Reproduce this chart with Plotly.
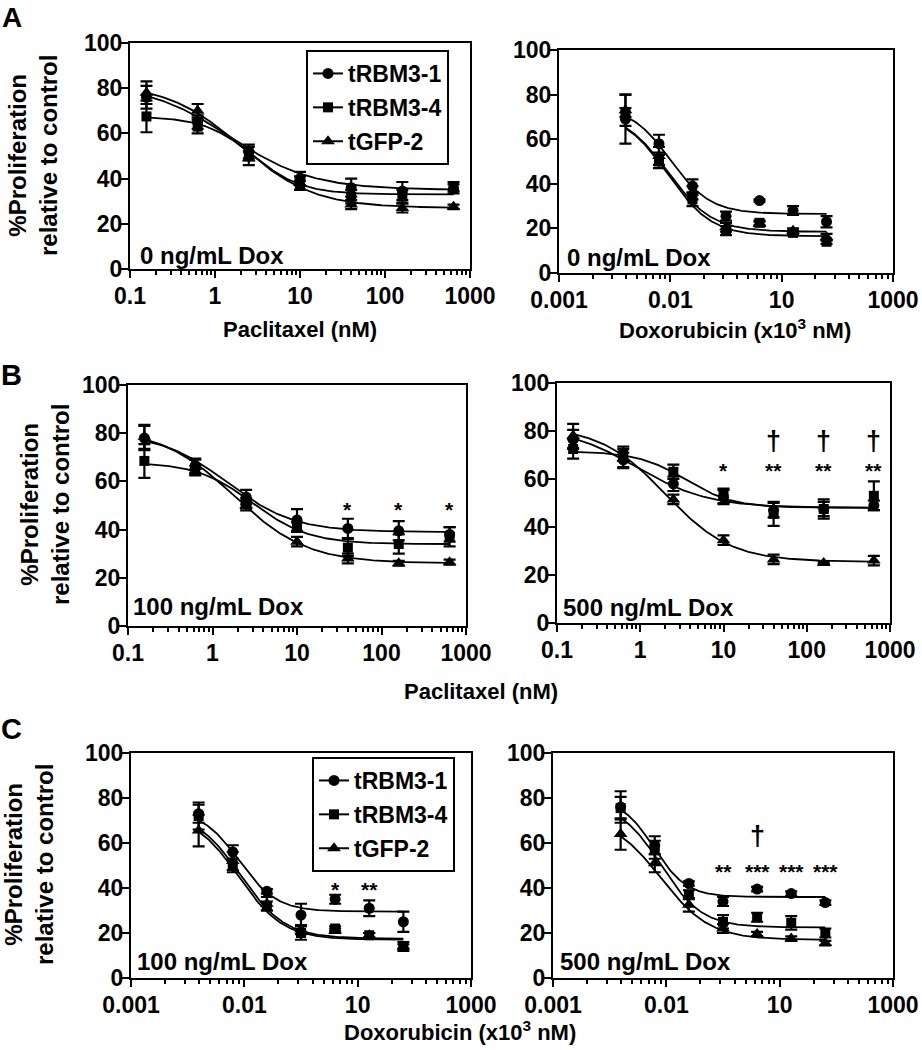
import numpy as np
import plotly.graph_objects as go

# ---------------- data ----------------
SERIES = ["tRBM3-1", "tRBM3-4", "tGFP-2"]
PTX_DOSES = [0.15625, 0.625, 2.5, 10, 40, 160, 640]          # Paclitaxel (nM)
DOX_DOSES = [0.015625, 0.0625, 0.25, 1, 4, 16, 64]           # Doxorubicin (x10^3 nM)

PTX_TICKVALS = [0.1, 1, 10, 100, 1000]
PTX_TICKTEXT = ["0.1", "1", "10", "100", "1000"]
DOX_TICKVALS = [0.001, 0.1, 10, 1000]
DOX_TICKTEXT = ["0.001", "0.01", "10", "1000"]
Y_TICKVALS = [0, 20, 40, 60, 80, 100]

# Panel A left: 0 ng/mL Dox, paclitaxel
A1_RBM1 = [76, 65, 52, 40, 36, 34.5, 35.5]
A1_RBM4 = [67.5, 63, 51, 37, 32, 32, 36.5]
A1_GFP2 = [78, 70, 49, 38, 28.5, 27, 27.5]
A1_RBM1_ERR = [5, 3, 3, 3, 4, 4, 2]
A1_RBM4_ERR = [7, 3, 3, 2, 3, 3, 2]
A1_GFP2_ERR = [5, 3, 3, 3, 2, 2, 1]
A1_FIT = [(82, 35, 1.5, 0.9), (67.5, 33, 2.8, 1.5), (82, 27, 2.0, 1.0)]  # top, bottom, EC50, hill

# Panel A right: 0 ng/mL Dox, doxorubicin
A2_RBM1 = [69, 58, 39, 25.5, 32.5, 28, 23]
A2_RBM4 = [72, 50, 33, 19, 22.5, 18, 14]
A2_GFP2 = [73, 52.5, 36, 20.5, 22, 19, 16]
A2_RBM1_ERR = [11, 4, 3, 2, 0.5, 2, 2.5]
A2_RBM4_ERR = [2, 3, 3, 2, 1, 1, 1]
A2_GFP2_ERR = [7, 4, 3, 2, 1, 1, 1.5]
A2_FIT = [(75, 26.5, 0.1, 1.2), (72, 16.5, 0.09, 1.1), (72, 18.5, 0.09, 1.1)]

# Panel B left: 100 ng/mL Dox, paclitaxel
B1_RBM1 = [78, 66.5, 53.5, 44, 40.5, 39.5, 38]
B1_RBM4 = [68.5, 64.5, 51, 41, 32.5, 34, 37]
B1_GFP2 = [78.5, 66, 50, 35, 28, 26, 26.5]
B1_RBM1_ERR = [5, 3, 3, 4.5, 4, 4, 3]
B1_RBM4_ERR = [7, 2, 2, 2, 3.5, 4, 4]
B1_GFP2_ERR = [5, 3, 2, 2, 2, 1, 1]
B1_FIT = [(80, 39, 1.5, 1.1), (68, 34, 3.0, 1.3), (82, 26, 1.8, 1.0)]
B1_SIG = [(4, "*", 51), (5, "*", 51), (6, "*", 51)]
B1_DAG = []

# Panel B right: 500 ng/mL Dox, paclitaxel
B2_RBM1 = [76.5, 68, 58, 52.5, 47, 47.5, 49]
B2_RBM4 = [72.5, 70.5, 63, 53, 45.5, 47.5, 53]
B2_GFP2 = [78, 68.5, 51.5, 34.5, 26.5, 25, 26]
B2_RBM1_ERR = [4, 3, 3, 3, 3, 3, 2]
B2_RBM4_ERR = [4, 3, 3, 3, 5, 4, 6]
B2_GFP2_ERR = [5, 4, 2, 2, 2, 0.5, 2]
B2_FIT = [(82, 48, 0.9, 1.0), (71.5, 48, 3.5, 1.5), (82, 25.5, 2.0, 1.1)]
B2_SIG = [(3, "*", 66), (4, "**", 66), (5, "**", 66), (6, "**", 66)]
B2_DAG = [(4, "†", 76), (5, "†", 76), (6, "†", 76)]

# Panel C left: 100 ng/mL Dox, doxorubicin
C1_RBM1 = [73, 56, 38.5, 28, 35, 31, 25]
C1_RBM4 = [72, 50, 32, 20, 22, 19, 14]
C1_GFP2 = [65.5, 52, 33, 21.5, 21, 19, 14]
C1_RBM1_ERR = [4, 3, 1, 5, 2, 3.5, 4.5]
C1_RBM4_ERR = [6, 3, 2, 3, 1, 1, 2]
C1_GFP2_ERR = [7, 4, 3, 2, 1, 1, 1]
C1_FIT = [(75, 29.5, 0.08, 1.3), (73, 17, 0.08, 1.1), (74, 17.5, 0.085, 1.1)]
C1_SIG = [(4, "*", 42), (5, "**", 42)]
C1_DAG = []

# Panel C right: 500 ng/mL Dox, doxorubicin
C2_RBM1 = [76, 59, 42, 34, 39.5, 37.5, 33.5]
C2_RBM4 = [75.5, 57, 37, 25, 27, 24.5, 20]
C2_GFP2 = [64, 51, 32.5, 22, 19.5, 17.5, 15.5]
C2_RBM1_ERR = [7, 4, 1, 2, 1, 1, 1]
C2_RBM4_ERR = [5, 4, 2, 3, 2, 3, 2]
C2_GFP2_ERR = [7, 4, 3, 2, 1, 1, 1]
C2_FIT = [(80, 36, 0.06, 1.5), (78, 22.5, 0.08, 1.2), (72, 17, 0.08, 1.0)]
C2_SIG = [(3, "**", 50), (4, "***", 50), (5, "***", 50), (6, "***", 50)]
C2_DAG = [(4, "†", 63)]

# ---------------- layout / style ----------------
W, H = 922, 1050
FONT = "Liberation Sans, Arial, Helvetica, sans-serif"
SYM = {"tRBM3-1": "circle", "tRBM3-4": "square", "tGFP-2": "triangle-up"}
MSIZE = {"tRBM3-1": 11, "tRBM3-4": 10, "tGFP-2": 12}


def px(x):
    return x / W


def py(y):
    return 1 - y / H


PANELS = [
    dict(n=1, doses=PTX_DOSES, drug="ptx", means=[A1_RBM1, A1_RBM4, A1_GFP2],
         errs=[A1_RBM1_ERR, A1_RBM4_ERR, A1_GFP2_ERR], fits=A1_FIT, sig=[], dag=[],
         label="0 ng/mL Dox", box=(130, 470, 43, 269), lab=(138, 255), legend="legend"),
    dict(n=2, doses=DOX_DOSES, drug="dox", means=[A2_RBM1, A2_RBM4, A2_GFP2],
         errs=[A2_RBM1_ERR, A2_RBM4_ERR, A2_GFP2_ERR], fits=A2_FIT, sig=[], dag=[],
         label="0 ng/mL Dox", box=(559, 893, 50, 273), lab=(565, 257), legend=None),
    dict(n=3, doses=PTX_DOSES, drug="ptx", means=[B1_RBM1, B1_RBM4, B1_GFP2],
         errs=[B1_RBM1_ERR, B1_RBM4_ERR, B1_GFP2_ERR], fits=B1_FIT, sig=B1_SIG, dag=B1_DAG,
         label="100 ng/mL Dox", box=(128, 466, 385, 626), lab=(131, 606), legend=None),
    dict(n=4, doses=PTX_DOSES, drug="ptx", means=[B2_RBM1, B2_RBM4, B2_GFP2],
         errs=[B2_RBM1_ERR, B2_RBM4_ERR, B2_GFP2_ERR], fits=B2_FIT, sig=B2_SIG, dag=B2_DAG,
         label="500 ng/mL Dox", box=(557, 890, 383, 623), lab=(561, 607), legend=None),
    dict(n=5, doses=DOX_DOSES, drug="dox", means=[C1_RBM1, C1_RBM4, C1_GFP2],
         errs=[C1_RBM1_ERR, C1_RBM4_ERR, C1_GFP2_ERR], fits=C1_FIT, sig=C1_SIG, dag=C1_DAG,
         label="100 ng/mL Dox", box=(131, 471, 753, 978), lab=(135, 961), legend="legend2"),
    dict(n=6, doses=DOX_DOSES, drug="dox", means=[C2_RBM1, C2_RBM4, C2_GFP2],
         errs=[C2_RBM1_ERR, C2_RBM4_ERR, C2_GFP2_ERR], fits=C2_FIT, sig=C2_SIG, dag=C2_DAG,
         label="500 ng/mL Dox", box=(553, 893, 753, 978), lab=(558, 961), legend=None),
]

ptx_minor = [m * 10.0 ** e for e in range(-1, 3) for m in range(2, 10)]
dox_minor = [10.0 ** (e + 2 * np.log10(m)) for e in (-3, -1, 1) for m in range(2, 10)]

TICK_FONT = dict(family=FONT, size=23, color="black", weight="bold")

fig = go.Figure()
annotations = []
layout = {}

for p in PANELS:
    n = p["n"]
    xr = "x" if n == 1 else f"x{n}"
    yr = "y" if n == 1 else f"y{n}"
    doses = p["doses"]
    # fitted curves
    for s_i, s in enumerate(SERIES):
        top, bottom, ec50, hill = p["fits"][s_i]
        xs = np.logspace(np.log10(doses[0]), np.log10(doses[-1]), 200)
        ys = bottom + (top - bottom) / (1 + (xs / ec50) ** hill)
        fig.add_trace(go.Scatter(x=xs, y=ys, mode="lines", line=dict(color="black", width=1.8),
                                 xaxis=xr, yaxis=yr, showlegend=False, hoverinfo="skip"))
    # points with error bars
    for s_i, s in enumerate(SERIES):
        fig.add_trace(go.Scatter(
            x=doses, y=p["means"][s_i], mode="markers", name=s,
            marker=dict(symbol=SYM[s], size=MSIZE[s], color="black"),
            error_y=dict(type="data", array=p["errs"][s_i], visible=True,
                         color="black", thickness=2.2, width=6),
            xaxis=xr, yaxis=yr, showlegend=False))
    # legend entries
    if p["legend"]:
        for s in SERIES:
            fig.add_trace(go.Scatter(
                x=[None], y=[None], mode="lines+markers", name=s,
                legend=p["legend"], legendgroup=p["legend"] + s,
                marker=dict(symbol=SYM[s], size=MSIZE[s], color="black"),
                line=dict(color="black", width=2), xaxis=xr, yaxis=yr))

    l, r, t, b = p["box"]
    xkey = "xaxis" if n == 1 else f"xaxis{n}"
    ykey = "yaxis" if n == 1 else f"yaxis{n}"
    if p["drug"] == "ptx":
        tv, tt, rng, mv = PTX_TICKVALS, PTX_TICKTEXT, [-1, 3], ptx_minor
    else:
        tv, tt, rng, mv = DOX_TICKVALS, DOX_TICKTEXT, [-3, 3], dox_minor
    layout[xkey] = dict(
        domain=[px(l), px(r)], anchor=yr, type="log", range=rng, automargin=False,
        tickmode="array", tickvals=tv, ticktext=tt,
        ticks="outside", ticklen=7, tickwidth=2, tickcolor="black",
        minor=dict(tickmode="array", tickvals=mv, ticks="outside", ticklen=4,
                   tickwidth=1.5, tickcolor="black", showgrid=False),
        showline=True, linewidth=2, linecolor="black", mirror=True,
        showgrid=False, zeroline=False, ticklabelstandoff=-2, ticklabeloverflow="allow",
        tickfont=TICK_FONT)
    layout[ykey] = dict(
        domain=[py(b), py(t)], anchor=xr, range=[0, 100], automargin=False,
        tickmode="array", tickvals=Y_TICKVALS,
        ticks="outside", ticklen=7, tickwidth=2, tickcolor="black",
        showline=True, linewidth=2, linecolor="black", mirror=True,
        showgrid=False, zeroline=False, ticklabelstandoff=-6,
        tickfont=TICK_FONT)

    # condition label
    annotations.append(dict(xref="paper", yref="paper", x=px(p["lab"][0]), y=py(p["lab"][1]),
                            xanchor="left", yanchor="middle", showarrow=False,
                            text=f"<b>{p['label']}</b>",
                            font=dict(family=FONT, size=24, color="black")))
    # significance marks
    for idx, txt, yv in p["sig"]:
        annotations.append(dict(xref=xr, yref=yr, x=np.log10(doses[idx]), y=yv,
                                xanchor="center", yanchor="middle", yshift=-6, showarrow=False,
                                text=f"<b>{txt}</b>", font=dict(family=FONT, size=21, color="black")))
    for idx, txt, yv in p["dag"]:
        annotations.append(dict(xref=xr, yref=yr, x=np.log10(doses[idx]), y=yv,
                                xanchor="center", yanchor="middle", showarrow=False,
                                text=f"<b>{txt}</b>", font=dict(family=FONT, size=27, color="black")))

# panel letters
annotations.append(dict(xref="paper", yref="paper", x=px(12), y=1, xanchor="center",
                        yanchor="top", showarrow=False, text="<b>A</b>",
                        font=dict(family=FONT, size=28, color="black")))
for letter, (lx, ly) in zip(["B", "C"], [(11, 375), (11, 729)]):
    annotations.append(dict(xref="paper", yref="paper", x=px(lx), y=py(ly), xanchor="center",
                            yanchor="middle", showarrow=False, text=f"<b>{letter}</b>",
                            font=dict(family=FONT, size=29, color="black")))

# y titles
for (tx, ty) in [(33, 156), (45, 505), (29, 865)]:
    annotations.append(dict(xref="paper", yref="paper", x=px(tx), y=py(ty), xanchor="center",
                            yanchor="middle", showarrow=False, textangle=-90,
                            text="<b>%Proliferation<br>relative to control</b>",
                            font=dict(family=FONT, size=24, color="black")))

# x titles
DOX_TITLE = "<b>Doxorubicin (x10<sup>3</sup> nM)</b>"
PTX_TITLE = "<b>Paclitaxel (nM)</b>"
for txt, (tx, ty) in [(PTX_TITLE, (300, 329)), (DOX_TITLE, (735, 329)),
                      (PTX_TITLE, (481, 692)), (DOX_TITLE, (460, 1031))]:
    annotations.append(dict(xref="paper", yref="paper", x=px(tx), y=py(ty), xanchor="center",
                            yanchor="middle", showarrow=False, text=txt,
                            font=dict(family=FONT, size=22, color="black")))

legend_style = dict(xanchor="left", yanchor="top", bordercolor="black", borderwidth=2,
                    bgcolor="white", traceorder="grouped", tracegroupgap=1, itemwidth=30,
                    font=dict(family=FONT, size=23, color="black", weight="bold"))

fig.update_layout(
    width=W, height=H, autosize=False,
    margin=dict(l=0, r=0, t=0, b=0, pad=0, autoexpand=False),
    paper_bgcolor="white", plot_bgcolor="white",
    font=dict(family=FONT, color="black"),
    annotations=annotations,
    legend=dict(x=px(306), y=py(50), **legend_style),
    legend2=dict(x=px(312), y=py(757), **legend_style),
    **layout,
)

fig.write_html("out.html", config={"displayModeBar": False},
               post_script="document.body.style.margin='0';document.body.style.overflow='hidden';")
